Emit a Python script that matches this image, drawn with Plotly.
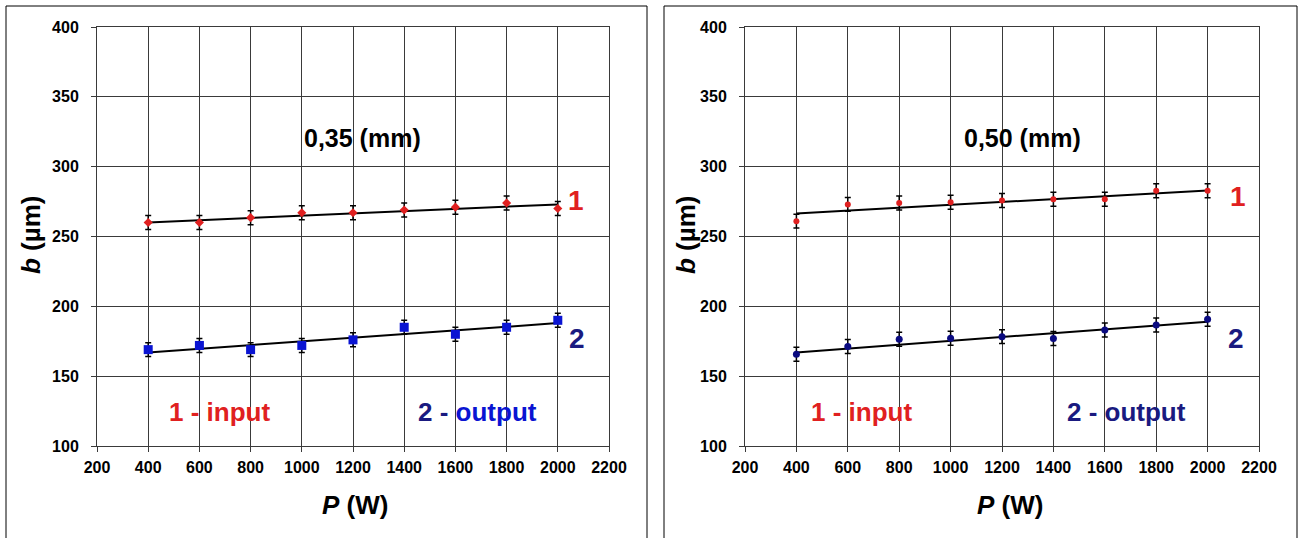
import plotly.graph_objects as go

# ---------------- data ----------------
power = [400, 600, 800, 1000, 1200, 1400, 1600, 1800, 2000]

# panel 0,35 mm
input_035 = [260, 260, 263.5, 267, 267, 269, 271, 274, 270]
output_035 = [169, 172, 169, 172, 176, 185, 180, 185, 190]
err_in_035 = [5, 5, 5, 5, 5, 5, 5, 5, 5]
err_out_035 = [5, 5, 5, 5, 5, 5, 5, 5, 5]

# panel 0,50 mm
input_050 = [261, 273, 274, 274.5, 275.7, 276.6, 276.6, 282.8, 282.8]
output_050 = [165.7, 171.2, 176.4, 177.1, 178.3, 177, 183.1, 186.7, 190.7]
err_in_050 = [5, 5, 5, 5, 5, 5, 5, 5, 5]
err_out_050 = [5, 5, 5, 5, 5, 5, 5, 5, 5]

# trend lines (end points)
trend_x = [400, 2000]
trend_in_035 = [260, 273]
trend_out_035 = [167, 188]
trend_in_050 = [266.5, 283]
trend_out_050 = [167, 189]

x_ticks = [200, 400, 600, 800, 1000, 1200, 1400, 1600, 1800, 2000, 2200]
y_ticks = [100, 150, 200, 250, 300, 350, 400]
panel_titles = ["0,35 (mm)", "0,50 (mm)"]

# ---------------- layout ----------------
W, H = 1299, 538
FONT = "Liberation Sans, Arial, sans-serif"
RED = "#E02020"
NAVY = "#1A1A80"
BLUE = "#0A14D2"

def px_x(p):
    return p / W

def px_y(p):
    return 1 - p / H

fig = go.Figure()

def err(arr):
    return dict(type="data", array=arr, visible=True, color="black",
                thickness=1.5, width=3)

panels = [
    dict(xa="x", ya="y", inp=input_035, out=output_035, ei=err_in_035, eo=err_out_035,
         ti=trend_in_035, to=trend_out_035,
         in_marker=dict(symbol="diamond", size=7, color=RED),
         out_marker=dict(symbol="square", size=9, color=BLUE)),
    dict(xa="x2", ya="y2", inp=input_050, out=output_050, ei=err_in_050, eo=err_out_050,
         ti=trend_in_050, to=trend_out_050,
         in_marker=dict(symbol="circle", size=6, color=RED),
         out_marker=dict(symbol="circle", size=7, color="#0A0A80")),
]

for p in panels:
    fig.add_trace(go.Scatter(x=trend_x, y=p["ti"], mode="lines",
                             line=dict(color="black", width=2),
                             xaxis=p["xa"], yaxis=p["ya"], showlegend=False))
    fig.add_trace(go.Scatter(x=trend_x, y=p["to"], mode="lines",
                             line=dict(color="black", width=2),
                             xaxis=p["xa"], yaxis=p["ya"], showlegend=False))
    fig.add_trace(go.Scatter(x=power, y=p["inp"], mode="markers",
                             marker=p["in_marker"], error_y=err(p["ei"]),
                             xaxis=p["xa"], yaxis=p["ya"], showlegend=False))
    fig.add_trace(go.Scatter(x=power, y=p["out"], mode="markers",
                             marker=p["out_marker"], error_y=err(p["eo"]),
                             xaxis=p["xa"], yaxis=p["ya"], showlegend=False))

axis_common = dict(showgrid=True, gridcolor="#3a3a3a", gridwidth=1,
                   showline=True, linecolor="#3a3a3a", linewidth=1,
                   ticks="outside", ticklen=5, tickcolor="#3a3a3a",
                   tickfont=dict(family=FONT, size=16, color="black", weight="bold"),
                   zeroline=False, fixedrange=True, automargin=False)

ydom = [px_y(446), px_y(27)]
fig.update_layout(
    width=W, height=H,
    margin=dict(l=0, r=0, t=0, b=0, pad=0, autoexpand=False),
    paper_bgcolor="white", plot_bgcolor="white",
    xaxis=dict(domain=[px_x(97), px_x(609)], range=[200, 2200], tickvals=x_ticks,
               anchor="y", mirror=True, ticklabelstandoff=2, **axis_common),
    yaxis=dict(domain=ydom, range=[100, 400], tickvals=y_ticks, anchor="x",
               mirror=True, ticklabelstandoff=9, **axis_common),
    xaxis2=dict(domain=[px_x(745), px_x(1259)], range=[200, 2200], tickvals=x_ticks,
                anchor="y2", mirror=True, ticklabelstandoff=2, **axis_common),
    yaxis2=dict(domain=ydom, range=[100, 400], tickvals=y_ticks, anchor="x2",
                mirror=True, ticklabelstandoff=9, **axis_common),
)

# frames around each panel
fig.add_shape(type="rect", xref="paper", yref="paper",
              x0=px_x(6), x1=px_x(647), y0=px_y(545), y1=px_y(6),
              line=dict(color="black", width=1))
fig.add_shape(type="rect", xref="paper", yref="paper",
              x0=px_x(664), x1=px_x(1297), y0=px_y(545), y1=px_y(6),
              line=dict(color="black", width=1))

def ann(text, x, y, xref, yref, size, color="black", **kw):
    fig.add_annotation(text=text, x=x, y=y, xref=xref, yref=yref, showarrow=False,
                       xanchor="center", yanchor="middle",
                       font=dict(family=FONT, size=size, color=color, weight="bold"),
                       **kw)

# panel titles
ann(panel_titles[0], 1237, 320.5, "x", "y", 25)
ann(panel_titles[1], 1278, 320.5, "x2", "y2", 25)

# curve numbers
ann("1", 2071, 276, "x", "y", 28, RED)
ann("2", 2075, 177, "x", "y", 28, NAVY)
ann("1", 2118, 279, "x2", "y2", 28, RED)
ann("2", 2110, 177, "x2", "y2", 28, NAVY)

# legends in plot
ann("1 - input", 680, 124, "x", "y", 26, RED)
ann("<span style='color:%s'>2 - </span><span style='color:%s'>output</span>" % (NAVY, BLUE),
    1685, 124, "x", "y", 26)
ann("1 - input", 655, 124, "x2", "y2", 26, RED)
ann("2 - output", 1683, 124, "x2", "y2", 26, NAVY)

# axis titles
for cx in (31, 686):
    ann("<i>b</i> (µm)", px_x(cx), px_y(235), "paper", "paper", 26, textangle=-90)
for cx in (355, 1010):
    ann("<i>P</i> (W)", px_x(cx), px_y(505), "paper", "paper", 26)

fig.write_html(
    "out.html",
    config={"displayModeBar": False},
    post_script="document.body.style.margin='0';document.body.style.overflow='hidden';",
)
